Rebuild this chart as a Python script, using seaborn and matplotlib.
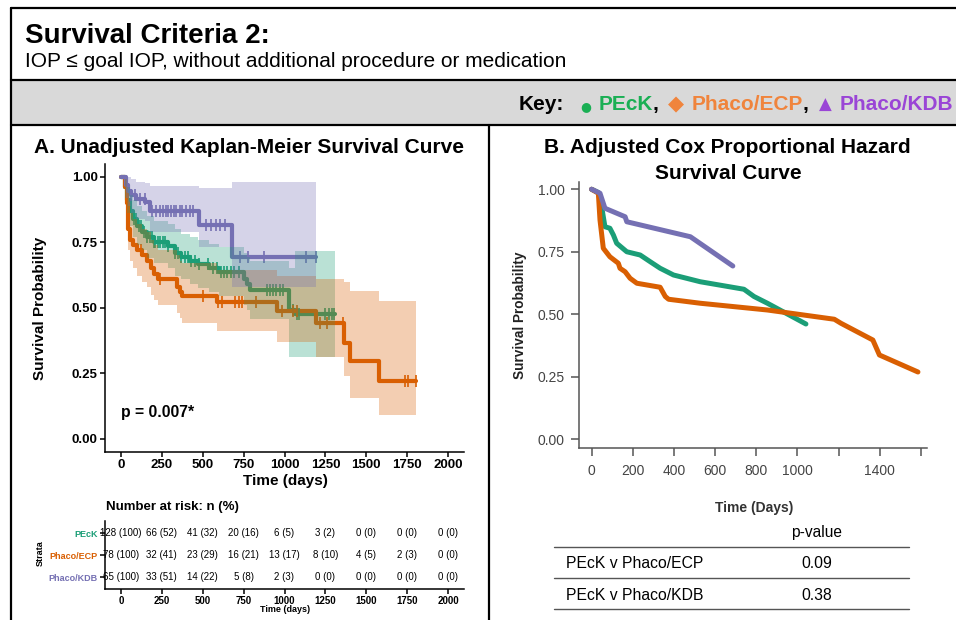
import numpy as np
import pandas as pd
import matplotlib.pyplot as plt
import seaborn as sns
from matplotlib.lines import Line2D
from matplotlib.patches import Rectangle

# groups and colours
groups = ["PEcK", "Phaco/ECP", "Phaco/KDB"]
pal = {"PEcK": "#1B9E77", "Phaco/ECP": "#D95F02", "Phaco/KDB": "#7570B3"}
key_cols = {"PEcK": "#1AAF54", "Phaco/ECP": "#F0843C", "Phaco/KDB": "#9A45D6"}

# Kaplan-Meier steps (time in days, survival), last entry = end of follow-up
km_peck_t = [0, 25, 40, 55, 75, 100, 130, 160, 200, 290, 330, 370, 420, 470, 540, 600, 750, 770, 790, 1030, 1065, 1307]
km_peck_s = [1.0, 0.96, 0.91, 0.87, 0.84, 0.81, 0.79, 0.77, 0.75, 0.735, 0.71, 0.695, 0.68, 0.665, 0.65, 0.635, 0.61, 0.59, 0.568, 0.49, 0.475, 0.475]
km_peck_lo = [1.0, 0.92, 0.86, 0.81, 0.77, 0.74, 0.72, 0.69, 0.67, 0.65, 0.62, 0.61, 0.59, 0.575, 0.56, 0.545, 0.51, 0.49, 0.455, 0.31, 0.31, 0.31]
km_peck_hi = [1.0, 0.99, 0.96, 0.93, 0.91, 0.89, 0.87, 0.85, 0.83, 0.82, 0.80, 0.78, 0.77, 0.76, 0.745, 0.73, 0.71, 0.695, 0.68, 0.65, 0.715, 0.715]
km_peck_cens = [80, 95, 110, 125, 140, 160, 175, 190, 200, 210, 225, 240, 255, 270, 290, 330, 350, 370, 390, 410,
                430, 455, 480, 530, 560, 590, 610, 630, 650, 670, 690, 720, 890, 910, 930, 950, 970, 990,
                1050, 1075, 1090, 1250, 1270, 1290, 1305]

km_ecp_t = [0, 25, 35, 45, 55, 75, 100, 130, 160, 185, 205, 225, 340, 360, 375, 585, 955, 1190, 1365, 1398, 1580, 1806]
km_ecp_s = [1.0, 0.96, 0.90, 0.80, 0.76, 0.74, 0.72, 0.70, 0.68, 0.65, 0.63, 0.61, 0.58, 0.56, 0.545, 0.523, 0.487, 0.44, 0.366, 0.295, 0.222, 0.222]
km_ecp_lo = [1.0, 0.92, 0.84, 0.72, 0.68, 0.65, 0.62, 0.60, 0.58, 0.55, 0.53, 0.51, 0.48, 0.46, 0.44, 0.41, 0.37, 0.31, 0.24, 0.155, 0.09, 0.09]
km_ecp_hi = [1.0, 0.99, 0.96, 0.89, 0.86, 0.84, 0.82, 0.80, 0.79, 0.76, 0.74, 0.72, 0.70, 0.68, 0.67, 0.645, 0.62, 0.61, 0.60, 0.565, 0.524, 0.524]
km_ecp_cens = [124, 237, 501, 591, 616, 697, 722, 742, 824, 983, 1054, 1074, 1217, 1258, 1360, 1737, 1757, 1806]

km_kdb_t = [0, 30, 45, 60, 90, 150, 175, 480, 680, 1195]
km_kdb_s = [1.0, 0.97, 0.945, 0.93, 0.915, 0.905, 0.87, 0.815, 0.695, 0.695]
km_kdb_lo = [1.0, 0.92, 0.89, 0.86, 0.84, 0.83, 0.79, 0.73, 0.58, 0.58]
km_kdb_hi = [1.0, 1.0, 1.0, 0.99, 0.98, 0.975, 0.965, 0.955, 0.98, 0.98]
km_kdb_cens = [63, 84, 114, 145, 192, 216, 237, 257, 273, 287, 308, 322, 338, 359, 375, 396, 420, 440,
               522, 552, 583, 604, 638, 726, 777, 873, 1133, 1195]

p_text = "p = 0.007*"

# number at risk table
risk_times = [0, 250, 500, 750, 1000, 1250, 1500, 1750, 2000]
risk_peck_n = [128, 66, 41, 20, 6, 3, 0, 0, 0]
risk_peck_pct = [100, 52, 32, 16, 5, 2, 0, 0, 0]
risk_ecp_n = [78, 32, 23, 16, 13, 8, 4, 2, 0]
risk_ecp_pct = [100, 41, 29, 21, 17, 10, 5, 3, 0]
risk_kdb_n = [65, 33, 14, 5, 2, 0, 0, 0, 0]
risk_kdb_pct = [100, 51, 22, 8, 3, 0, 0, 0, 0]

# adjusted Cox curves
cox_peck_t = [0, 33, 49, 65, 89, 106, 122, 171, 236, 285, 333, 398, 528, 740, 789, 854, 1041]
cox_peck_s = [1.0, 0.987, 0.93, 0.85, 0.844, 0.817, 0.784, 0.75, 0.737, 0.71, 0.684, 0.657, 0.63, 0.60, 0.571, 0.544, 0.461]
cox_ecp_t = [0, 33, 41, 57, 89, 130, 138, 163, 187, 220, 333, 358, 374, 528, 854, 1179, 1211, 1366, 1398, 1585]
cox_ecp_s = [1.0, 0.984, 0.877, 0.764, 0.73, 0.704, 0.684, 0.67, 0.644, 0.624, 0.608, 0.571, 0.56, 0.544, 0.517, 0.48, 0.464, 0.397, 0.337, 0.269]
cox_kdb_t = [0, 41, 65, 163, 171, 480, 686]
cox_kdb_s = [1.0, 0.984, 0.924, 0.89, 0.87, 0.81, 0.693]

b_xticks = [0, 200, 400, 600, 800, 1000, 1200, 1400, 1600]
b_xlabels = ["0", "200", "400", "600", "800", "1000", "", "1400", ""]
surv_ticks = [0, 0.25, 0.5, 0.75, 1.0]
surv_labels = ["0.00", "0.25", "0.50", "0.75", "1.00"]

comparisons = ["PEcK v Phaco/ECP", "PEcK v Phaco/KDB"]
pvals = ["0.09", "0.38"]

km = {
    "PEcK": (km_peck_t, km_peck_s, km_peck_lo, km_peck_hi, km_peck_cens),
    "Phaco/ECP": (km_ecp_t, km_ecp_s, km_ecp_lo, km_ecp_hi, km_ecp_cens),
    "Phaco/KDB": (km_kdb_t, km_kdb_s, km_kdb_lo, km_kdb_hi, km_kdb_cens),
}
risk = {
    "PEcK": (risk_peck_n, risk_peck_pct),
    "Phaco/ECP": (risk_ecp_n, risk_ecp_pct),
    "Phaco/KDB": (risk_kdb_n, risk_kdb_pct),
}
cox = {
    "PEcK": (cox_peck_t, cox_peck_s),
    "Phaco/ECP": (cox_ecp_t, cox_ecp_s),
    "Phaco/KDB": (cox_kdb_t, cox_kdb_s),
}

sns.set_theme(style="ticks")
plt.rcParams['font.family'] = ['Liberation Sans', 'DejaVu Sans']
plt.rcParams['text.color'] = 'black'

W, H = 956, 620
fig = plt.figure(figsize=(W / 100, H / 100), dpi=100)


def box(l, t, r, b):
    return [l / W, 1 - b / H, (r - l) / W, (b - t) / H]


def fig_line(x0, y0, x1, y1, **kw):
    fig.add_artist(Line2D([x0 / W, x1 / W], [1 - y0 / H, 1 - y1 / H], transform=fig.transFigure, **kw))


def ftext(x, y, s, **kw):
    return fig.text(x / W, 1 - y / H, s, **kw)


# frame and header
fig.add_artist(Rectangle((11 / W, 1 - 125 / H), (W - 11) / W, 45 / H, transform=fig.transFigure,
                         facecolor="#d9d9d9", edgecolor="none"))
for seg in [(11, 8, 956, 8), (11, 8, 11, 620), (11, 80, 956, 80), (11, 125, 956, 125), (489, 125, 489, 620)]:
    fig_line(*seg, color="black", lw=1.6)

ftext(25, 43, "Survival Criteria 2:", fontsize=20, fontweight="bold", va="baseline")
ftext(25, 67, "IOP ≤ goal IOP, without additional procedure or medication", fontsize=15, va="baseline")

# key, placed left to right then shifted to end at the right edge; gap = space after piece (px)
sym_font = ["DejaVu Sans"]
txt_font = ["Liberation Sans", "DejaVu Sans"]
key_parts = [("Key:", "black", 15, 16, txt_font), ("●", key_cols["PEcK"], 9, 7, sym_font),
             ("PEcK", key_cols["PEcK"], 15, 0, txt_font), (",", "black", 15, 10, txt_font),
             ("◆", key_cols["Phaco/ECP"], 15, 7, sym_font), ("Phaco/ECP", key_cols["Phaco/ECP"], 15, 0, txt_font),
             (",", "black", 15, 10, txt_font), ("▲", key_cols["Phaco/KDB"], 12, 8, sym_font),
             ("Phaco/KDB", key_cols["Phaco/KDB"], 15, 0, txt_font)]
renderer = fig.canvas.get_renderer()
x = 521
placed = []
for txt, col, fs, gap, fam in key_parts:
    t = ftext(x, 110, txt, color=col, fontsize=fs, fontweight="bold", family=fam, ha="left", va="baseline")
    placed.append((t, x))
    x += t.get_window_extent(renderer).width + gap
shift = 953 - x
for t, x0 in placed:
    t.set_x((x0 + shift) / W)

# panel titles
ftext(249.5, 153, "A. Unadjusted Kaplan-Meier Survival Curve", fontsize=15, fontweight="bold", ha="center", va="baseline")
ftext(727, 153, "B. Adjusted Cox Proportional Hazard", fontsize=15, fontweight="bold", ha="center", va="baseline")
ftext(728, 179, "Survival Curve", fontsize=15, fontweight="bold", ha="center", va="baseline")

# ---- Panel A: Kaplan-Meier ----
axA = fig.add_axes(box(104.6, 163.6, 464.4, 451.8))
km_df = pd.concat([pd.DataFrame({"time": v[0], "surv": v[1], "group": g}) for g, v in km.items()])
sns.lineplot(data=km_df, x="time", y="surv", hue="group", hue_order=groups, palette=pal,
             drawstyle="steps-post", estimator=None, sort=False, lw=3, legend=False, ax=axA)
for g, (t, s, lo, hi, cens) in km.items():
    idx = np.searchsorted(t, cens, side="right") - 1
    axA.plot(cens, np.array(s)[idx], linestyle="none", marker="|", markersize=8, mew=1.2,
             color=pal[g], zorder=2.2)
for g, (t, s, lo, hi, cens) in km.items():
    axA.fill_between(t, lo, hi, step="post", color=pal[g], alpha=0.3, lw=0, zorder=2.5)
axA.text(0, 0.10, p_text, fontsize=11.3, fontweight="bold", va="center", ha="left")
axA.set_xlim(-100, 2100)
axA.set_ylim(-0.05, 1.05)
axA.set_xticks(risk_times)
axA.set_yticks(surv_ticks)
axA.set_yticklabels(surv_labels)
axA.set_xlabel("")
axA.set_ylabel("")
sns.despine(ax=axA)
for sp in ["left", "bottom"]:
    axA.spines[sp].set_color("black")
    axA.spines[sp].set_linewidth(1.1)
axA.tick_params(length=3.6, width=1.1, color="black", labelsize=9.5, pad=1.5, labelcolor="black")
for lab in axA.get_xticklabels() + axA.get_yticklabels():
    lab.set_fontweight("bold")
ftext(285, 485, "Time (days)", fontsize=11, fontweight="bold", ha="center", va="baseline")
ftext(40, 308, "Survival Probability", fontsize=11, fontweight="bold", rotation=90, ha="center", va="center")

# ---- risk table ----
axT = fig.add_axes(box(104.6, 521.2, 464.4, 589.4))
rows = {"PEcK": 3, "Phaco/ECP": 2, "Phaco/KDB": 1}
for g, (n, pct) in risk.items():
    for tt, nn, pp in zip(risk_times, n, pct):
        axT.text(tt, rows[g], f"{nn} ({pp})", ha="center", va="center", fontsize=7, color="black")
axT.set_xlim(-100, 2100)
axT.set_ylim(0.45, 3.55)
axT.set_xticks(risk_times)
axT.set_yticks([rows[g] for g in groups])
axT.set_yticklabels(groups)
sns.despine(ax=axT)
for sp in ["left", "bottom"]:
    axT.spines[sp].set_color("black")
    axT.spines[sp].set_linewidth(1.1)
axT.tick_params(length=3.6, width=1.1, color="black", labelsize=7, pad=1.5, labelcolor="black")
for lab in axT.get_xticklabels():
    lab.set_fontweight("bold")
for lab, g in zip(axT.get_yticklabels(), groups):
    lab.set_fontweight("bold")
    lab.set_color(pal[g])
    lab.set_fontsize(6.5)
ftext(106, 507, "Number at risk: n (%)", fontsize=9.5, fontweight="bold", va="center")
ftext(285, 610, "Time (days)", fontsize=6.5, fontweight="bold", ha="center", va="center")
ftext(40, 553, "Strata", fontsize=6.5, fontweight="bold", rotation=90, ha="center", va="center")

# ---- Panel B: adjusted Cox ----
axB = fig.add_axes(box(579, 182, 927, 448))
cox_df = pd.concat([pd.DataFrame({"time": v[0], "surv": v[1], "group": g}) for g, v in cox.items()])
sns.lineplot(data=cox_df, x="time", y="surv", hue="group", hue_order=groups, palette=pal,
             estimator=None, sort=False, lw=3.6, legend=False, solid_capstyle="round",
             solid_joinstyle="round", ax=axB)
axB.set_xlim(-61, 1629)
axB.set_ylim(-0.035, 1.029)
axB.set_xticks(b_xticks)
axB.set_xticklabels(b_xlabels)
axB.set_yticks(surv_ticks)
axB.set_yticklabels(surv_labels)
axB.set_xlabel("")
axB.set_ylabel("")
sns.despine(ax=axB)
for sp in ["left", "bottom"]:
    axB.spines[sp].set_color("#555555")
    axB.spines[sp].set_linewidth(1.1)
axB.tick_params(length=5.5, width=1.1, color="#555555", labelsize=10, labelcolor="#444444")
axB.tick_params(axis="x", pad=6)
axB.tick_params(axis="y", pad=5)
ftext(520, 315, "Survival Probability", fontsize=9.8, fontweight="bold", rotation=90,
      ha="center", va="center", color="#222222")
ftext(754, 508, "Time (Days)", fontsize=10, fontweight="bold", ha="center", va="center", color="#333333")

# p-value table
ftext(817, 532, "p-value", fontsize=11.2, ha="center", va="center")
for yy in [547, 578, 609]:
    fig_line(554, yy, 909, yy, color="#555555", lw=1)
for yy, comp, pv in zip([563, 595], comparisons, pvals):
    ftext(566, yy, comp, fontsize=11.3, va="center")
    ftext(817, yy, pv, fontsize=11.3, ha="center", va="center")

fig.savefig("out.png", dpi=100)
